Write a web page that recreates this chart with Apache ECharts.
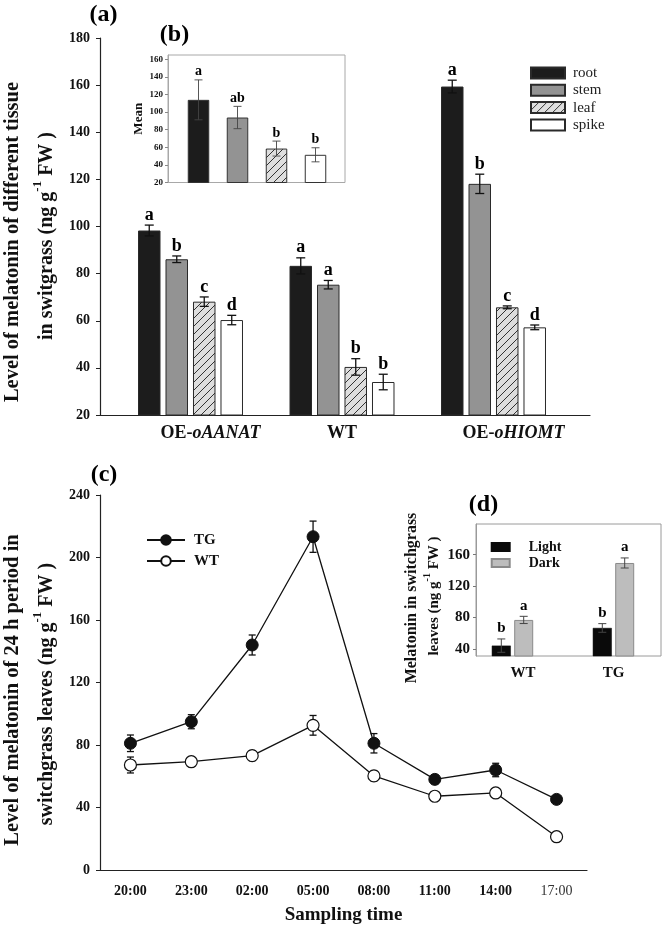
<!DOCTYPE html>
<html><head><meta charset="utf-8">
<script src="https://cdn.jsdelivr.net/npm/echarts@6/dist/echarts.min.js"></script>
<style>html,body{margin:0;padding:0;background:#fff}#c{width:666px;height:931px}</style>
</head><body><div id="c"></div>
<script>
// ---------- Panel (a): melatonin by tissue ----------
const lines = ['OE-oAANAT', 'WT', 'OE-oHIOMT'];
const tissues = ['root', 'stem', 'leaf', 'spike'];
const rootVals = [98.3, 83.3, 159.4];
const rootErr = [2.3, 3.4, 2.7];
const stemVals = [86.1, 75.3, 118.1];
const stemErr = [1.4, 1.8, 4.1];
const leafVals = [68.1, 40.4, 65.7];
const leafErr = [2.0, 3.5, 0.6];
const spikeVals = [60.3, 34.0, 57.2];
const spikeErr = [2.0, 3.3, 1.0];
const rootLetters = ['a', 'a', 'a'];
const stemLetters = ['b', 'a', 'b'];
const leafLetters = ['c', 'b', 'c'];
const spikeLetters = ['d', 'b', 'd'];
const aTicks = [20, 40, 60, 80, 100, 120, 140, 160, 180];

// ---------- Inset (b): mean by tissue ----------
const meanVals = [114, 93.9, 58.6, 51.5];
const meanErr = [22.7, 12.7, 8.5, 8];
const meanLetters = ['a', 'ab', 'b', 'b'];
const bTicks = [20, 40, 60, 80, 100, 120, 140, 160];

// ---------- Panel (c): 24 h period ----------
const times = ['20:00', '23:00', '02:00', '05:00', '08:00', '11:00', '14:00', '17:00'];
const tgVals = [81.1, 94.9, 144, 213.3, 81.1, 58, 64, 45.2];
const tgErr = [5.3, 4.5, 6.4, 10, 6.2, 2.9, 4.3, 2.3];
const wtVals = [67.2, 69.3, 73.2, 92.6, 60.2, 47.2, 49.3, 21.3];
const wtErr = [5.1, 2.9, 3.2, 6.3, 3.2, 1.5, 1.5, 1.0];
const cTicks = [0, 40, 80, 120, 160, 200, 240];

// ---------- Inset (d): light / dark ----------
const genotypes = ['WT', 'TG'];
const lightVals = [44.2, 66.7];
const lightErr = [8.5, 5.5];
const darkVals = [76.9, 149.4];
const darkErr = [4.6, 6.4];
const lightLetters = ['b', 'b'];
const darkLetters = ['a', 'a'];
const dTicks = [40, 80, 120, 160];

const FONT = '"Liberation Serif", "Times New Roman", serif';

function hatch() {
  const c = document.createElement('canvas');
  c.width = 8; c.height = 8;
  const g = c.getContext('2d');
  g.fillStyle = '#dedede'; g.fillRect(0, 0, 8, 8);
  g.strokeStyle = '#333'; g.lineWidth = 1;
  g.beginPath();
  g.moveTo(0, 8); g.lineTo(8, 0);
  g.moveTo(-2, 2); g.lineTo(2, -2);
  g.moveTo(6, 10); g.lineTo(10, 6);
  g.stroke();
  return c;
}
const tissueColors = ['#1c1c1c', '#939393', {image: hatch(), repeat: 'repeat'}, '#ffffff'];

function errSeries(name, xi, yi, vals, errs, letters, offset, cap, lw, color, font, gap, z) {
  return {
    type: 'custom', name: name, xAxisIndex: xi, yAxisIndex: yi, z: z, silent: true, clip: false,
    data: vals.map((v, i) => [i, v, errs[i]]),
    renderItem: function (params, api) {
      const i = api.value(0), v = api.value(1), e = api.value(2);
      const t = api.coord([i, v + e]);
      const b = api.coord([i, v - e]);
      const x = t[0] + offset;
      const st = {stroke: color, lineWidth: lw};
      const ch = [
        {type: 'line', shape: {x1: x, y1: t[1], x2: x, y2: b[1]}, style: st},
        {type: 'line', shape: {x1: x - cap / 2, y1: t[1], x2: x + cap / 2, y2: t[1]}, style: st},
        {type: 'line', shape: {x1: x - cap / 2, y1: b[1], x2: x + cap / 2, y2: b[1]}, style: st}
      ];
      if (letters) {
        ch.push({type: 'text', x: x, y: t[1] - gap,
          style: {text: letters[params.dataIndex], font: font, fill: '#000', align: 'center', verticalAlign: 'bottom'}});
      }
      return {type: 'group', children: ch};
    }
  };
}

const boldLbl = (size) => ({fontFamily: FONT, fontWeight: 'bold', fontSize: size, color: '#111'});

const tissueVals = [rootVals, stemVals, leafVals, spikeVals];
const tissueErrs = [rootErr, stemErr, leafErr, spikeErr];
const tissueLetters = [rootLetters, stemLetters, leafLetters, spikeLetters];

const series = [];
tissues.forEach((t, k) => {
  series.push({type: 'bar', name: t, xAxisIndex: 1, yAxisIndex: 1, data: tissueVals[k],
    barWidth: 22.5, barGap: '22.2%', z: 2,
    itemStyle: {color: tissueColors[k], borderColor: '#2a2a2a', borderWidth: 1}});
});
tissues.forEach((t, k) => {
  series.push(errSeries('errA' + k, 1, 1, tissueVals[k], tissueErrs[k], tissueLetters[k],
    (k - 1.5) * 27.5, 9, 1.3, '#111', 'bold 18px ' + FONT, 1, 5));
});
series.push({type: 'bar', name: 'Mean', xAxisIndex: 3, yAxisIndex: 3, z: 2,
  data: meanVals.map((v, k) => ({value: v, itemStyle: {color: tissueColors[k]}})),
  barWidth: 21.5, itemStyle: {borderColor: '#333', borderWidth: 1}});
series.push(errSeries('errB', 3, 3, meanVals, meanErr, meanLetters, 0, 8, 0.9, '#444', 'bold 14px ' + FONT, 1, 5));

series.push(errSeries('errTG', 4, 4, tgVals, tgErr, null, 0, 7, 1.3, '#111', '', 0, 1));
series.push(errSeries('errWT', 4, 4, wtVals, wtErr, null, 0, 7, 1.3, '#111', '', 0, 1));
series.push({type: 'line', name: 'TG', xAxisIndex: 4, yAxisIndex: 4, data: tgVals, z: 3,
  symbol: 'circle', symbolSize: 12, lineStyle: {color: '#111', width: 1.3},
  itemStyle: {color: '#111', borderColor: '#111', borderWidth: 1}});
series.push({type: 'line', name: 'WT', xAxisIndex: 4, yAxisIndex: 4, data: wtVals, z: 3,
  symbol: 'circle', symbolSize: 12, lineStyle: {color: '#111', width: 1.3},
  itemStyle: {color: '#ffffff', borderColor: '#111', borderWidth: 1.2}});

series.push({type: 'bar', name: 'Light', xAxisIndex: 6, yAxisIndex: 6, data: lightVals, z: 2,
  barWidth: 19, barGap: '18%', itemStyle: {color: '#0a0a0a', borderColor: '#0a0a0a', borderWidth: 0.5}});
series.push({type: 'bar', name: 'Dark', xAxisIndex: 6, yAxisIndex: 6, data: darkVals, z: 2,
  barWidth: 19, barGap: '18%', itemStyle: {color: '#bdbdbd', borderColor: '#8a8a8a', borderWidth: 1}});
series.push(errSeries('errL', 6, 6, lightVals, lightErr, lightLetters, -11.2, 8, 1, '#444', 'bold 15px ' + FONT, 3, 5));
series.push(errSeries('errD', 6, 6, darkVals, darkErr, darkLetters, 11.2, 8, 1, '#444', 'bold 15px ' + FONT, 3, 5));

const hiddenCat = (gi, data) => ({type: 'category', gridIndex: gi, data: data,
  axisLine: {show: false}, axisTick: {show: false}, axisLabel: {show: false}});
const hiddenVal = (gi, mn, mx) => ({type: 'value', gridIndex: gi, min: mn, max: mx,
  axisLine: {show: false}, axisTick: {show: false}, axisLabel: {show: false}, splitLine: {show: false}});

const supRich = (size, sup) => ({
  n: {font: 'bold ' + size + 'px ' + FONT, fill: '#111', padding: [Math.round(size * 0.25), 0, 0, 0], verticalAlign: 'bottom'},
  s: {font: 'bold ' + sup + 'px ' + FONT, fill: '#111', verticalAlign: 'top'}
});
const vtext = (x, y, txt, size, rich) => ({
  type: 'text', x: x, y: y, rotation: Math.PI / 2,
  style: {text: txt, font: 'bold ' + size + 'px ' + FONT, fill: '#111', align: 'center', verticalAlign: 'middle', rich: rich}
});

const option = {
  animation: false,
  backgroundColor: '#fff',
  textStyle: {fontFamily: FONT},
  grid: [
    {left: 100, top: 38, width: 490, height: 377},
    {left: 114.75, top: 38, width: 454.5, height: 377},
    {left: 168, top: 55, width: 177, height: 127.5, show: true, borderColor: '#a8a8a8', borderWidth: 1, backgroundColor: '#fff'},
    {left: 179, top: 55, width: 156, height: 127.5},
    {left: 100, top: 495, width: 487, height: 375},
    {left: 476, top: 524, width: 185, height: 132, show: true, borderColor: '#9a9a9a', borderWidth: 1, backgroundColor: '#fff'},
    {left: 462, top: 524, width: 202, height: 132}
  ],
  xAxis: [
    {type: 'category', gridIndex: 0, data: [''], axisLine: {lineStyle: {color: '#222', width: 1.2}},
      axisTick: {show: false}, axisLabel: {show: false}},
    {type: 'category', gridIndex: 1, data: lines, axisLine: {show: false}, axisTick: {show: false},
      axisLabel: {interval: 0, margin: 9, formatter: (v) => v.indexOf('OE-') === 0 ? '{sp|}{b|OE-}{i|' + v.slice(3) + '}' : '{b|' + v + '}',
        rich: {sp: {width: 40}, b: boldLbl(18), i: Object.assign(boldLbl(18), {fontStyle: 'italic'})}}},
    hiddenCat(2, ['']),
    hiddenCat(3, tissues),
    {type: 'category', gridIndex: 4, data: times, boundaryGap: true,
      axisLine: {lineStyle: {color: '#222', width: 1.2}},
      axisTick: {alignWithLabel: true, interval: 0, length: 5, lineStyle: {color: '#222'}},
      axisLabel: {interval: 0, margin: 14, formatter: (v, i) => (i === times.length - 1 ? '{n|' : '{b|') + v + '}',
        rich: {b: boldLbl(14), n: {fontFamily: FONT, fontWeight: 'normal', fontSize: 14, color: '#333'}}},
      name: 'Sampling time', nameLocation: 'middle', nameGap: 36,
      nameTextStyle: boldLbl(19)},
    hiddenCat(5, ['']),
    {type: 'category', gridIndex: 6, data: genotypes, axisLine: {show: false}, axisTick: {show: false},
      axisLabel: {interval: 0, margin: 10, formatter: (v, i) => (i === 0 ? '{sp|}' : '') + '{b|' + v + '}',
        rich: {sp: {width: 21}, b: boldLbl(15)}}}
  ],
  yAxis: [
    {type: 'value', gridIndex: 0, min: aTicks[0], max: aTicks[aTicks.length - 1], interval: aTicks[1] - aTicks[0],
      axisLine: {show: true, lineStyle: {color: '#222', width: 1.2}},
      axisTick: {show: true, length: 4, lineStyle: {color: '#222'}},
      axisLabel: Object.assign({margin: 10}, boldLbl(14)), splitLine: {show: false}},
    hiddenVal(1, aTicks[0], aTicks[aTicks.length - 1]),
    {type: 'value', gridIndex: 2, min: 20, max: 165,
      axisLine: {show: true, lineStyle: {color: '#a8a8a8'}},
      axisTick: {show: true, length: 3, lineStyle: {color: '#888'}, customValues: bTicks},
      axisLabel: Object.assign({margin: 5, customValues: bTicks}, boldLbl(9)), splitLine: {show: false},
      name: 'Mean', nameLocation: 'middle', nameGap: 23, nameTextStyle: boldLbl(13)},
    hiddenVal(3, 20, 165),
    {type: 'value', gridIndex: 4, min: cTicks[0], max: cTicks[cTicks.length - 1], interval: cTicks[1] - cTicks[0],
      axisLine: {show: true, lineStyle: {color: '#222', width: 1.2}},
      axisTick: {show: true, length: 4, lineStyle: {color: '#222'}},
      axisLabel: Object.assign({margin: 10}, boldLbl(14)), splitLine: {show: false}},
    {type: 'value', gridIndex: 5, min: 31, max: 199,
      axisLine: {show: true, lineStyle: {color: '#9a9a9a'}},
      axisTick: {show: true, length: 3, lineStyle: {color: '#777'}, customValues: dTicks},
      axisLabel: Object.assign({margin: 6, customValues: dTicks}, boldLbl(15)), splitLine: {show: false}},
    hiddenVal(6, 31, 199)
  ],
  legend: [
    {data: tissues, orient: 'vertical', left: 530, top: 65.5, padding: 0, itemWidth: 34, itemHeight: 11, itemGap: 2.3,
      selectedMode: false, icon: 'rect',
      textStyle: {fontFamily: FONT, fontSize: 15, color: '#222', padding: [0, 0, 0, 3]}},
    {data: ['TG', 'WT'], orient: 'vertical', left: 146, top: 532.5, padding: 0, itemWidth: 38, itemHeight: 12, itemGap: 6,
      selectedMode: false,
      textStyle: {fontFamily: FONT, fontWeight: 'bold', fontSize: 15, color: '#111', padding: [0, 0, 0, 4]}},
    {data: ['Light', 'Dark'], orient: 'vertical', left: 490.7, top: 540, padding: 0, itemWidth: 18, itemHeight: 8, itemGap: 2,
      selectedMode: false, icon: 'rect',
      textStyle: {fontFamily: FONT, fontWeight: 'bold', fontSize: 14, color: '#111', padding: [0, 0, 0, 14]}}
  ],
  graphic: [
    {type: 'text', x: 103.5, y: 15, style: {text: '(a)', font: 'bold 24px ' + FONT, fill: '#000', align: 'center', verticalAlign: 'middle'}},
    {type: 'text', x: 174.5, y: 35, style: {text: '(b)', font: 'bold 24px ' + FONT, fill: '#000', align: 'center', verticalAlign: 'middle'}},
    {type: 'text', x: 104, y: 475, style: {text: '(c)', font: 'bold 24px ' + FONT, fill: '#000', align: 'center', verticalAlign: 'middle'}},
    {type: 'text', x: 483.5, y: 505, style: {text: '(d)', font: 'bold 24px ' + FONT, fill: '#000', align: 'center', verticalAlign: 'middle'}},
    vtext(13, 242, 'Level of melatonin of different tissue', 20.5),
    vtext(44, 236, '{n|in switgrass (ng g}{s|-1}{n| FW )}', 20, supRich(20, 13)),
    vtext(13, 690, 'Level of melatonin of 24 h period in', 20.5),
    vtext(44, 694, '{n|switchgrass leaves (ng g}{s|-1}{n| FW )}', 20, supRich(20, 13)),
    vtext(412, 598, 'Melatonin in switchgrass', 16),
    vtext(432, 596, '{n|leaves (ng g}{s|-1}{n| FW )}', 15, supRich(15, 10))
  ],
  series: series
};

const chart = echarts.init(document.getElementById('c'));
chart.setOption(option);
</script>
</body></html>
